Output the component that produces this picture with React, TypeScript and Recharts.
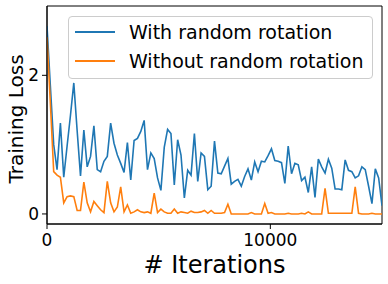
import React from 'react';
import { LineChart, Line, XAxis, YAxis, Legend, ReferenceArea } from 'recharts';

const ITERATIONS = [
  0, 150, 300, 450, 600, 750, 900, 1050, 1200, 1350,
  1500, 1650, 1800, 1950, 2100, 2250, 2400, 2550, 2700, 2850,
  3000, 3150, 3300, 3450, 3600, 3750, 3900, 4050, 4200, 4350,
  4500, 4650, 4800, 4950, 5100, 5250, 5400, 5550, 5700, 5850,
  6000, 6150, 6300, 6450, 6600, 6750, 6900, 7050, 7200, 7350,
  7500, 7650, 7800, 7950, 8100, 8250, 8400, 8550, 8700, 8850,
  9000, 9150, 9300, 9450, 9600, 9750, 9900, 10050, 10200, 10350,
  10500, 10650, 10800, 10950, 11100, 11250, 11400, 11550, 11700, 11850,
  12000, 12150, 12300, 12450, 12600, 12750, 12900, 13050, 13200, 13350,
  13500, 13650, 13800, 13950, 14100, 14250, 14400, 14550, 14700, 14850,
  15000,
];

const WITH_ROTATION = [
  2.71, 1.85, 1.0, 0.64, 1.31, 0.53, 0.98, 1.42, 1.89, 1.2,
  0.55, 1.21, 0.68, 0.83, 1.27, 0.64, 0.61, 0.76, 0.83, 1.31,
  1.02, 0.85, 0.73, 0.6, 1.03, 0.49, 1.06, 1.09, 1.19, 1.35,
  0.64, 0.88, 0.8, 0.52, 0.34, 0.96, 1.22, 1.16, 0.42, 1.07,
  0.85, 0.23, 0.63, 0.56, 1.16, 0.47, 0.88, 0.83, 0.35, 0.4,
  1.05, 0.59, 0.58, 0.69, 0.8, 0.43, 0.47, 0.5, 0.4, 0.54,
  0.65, 0.49, 0.75, 0.61, 0.76, 0.75, 0.84, 0.94, 0.77, 0.76,
  0.74, 0.44, 0.98, 0.58, 0.73, 0.71, 0.48, 0.53, 0.31, 0.68,
  0.24, 0.79, 0.68, 0.59, 0.79, 0.66, 0.36, 0.36, 0.35, 0.78,
  0.63, 0.61, 0.52, 0.55, 0.68, 0.64, 0.4, 0.15, 0.65, 0.52,
  0.12,
];

const WITHOUT_ROTATION = [
  2.55, 1.6, 0.61, 0.56, 0.53, 0.16, 0.25, 0.26, 0.25, 0.05,
  0.05, 0.46, 0.16, 0.03, 0.18, 0.12, 0.06, 0.02, 0.47, 0.16,
  0.03, 0.1, 0.39, 0.03, 0.13, 0.01, 0.03, 0.06, 0.03, 0.02,
  0.03, 0.01, 0.3, 0.02, 0.07, 0.03, 0.01, 0.01, 0.07, 0.01,
  0.03, 0.02, 0.01, 0.04, 0.02, 0.02, 0.03, 0.05, 0.01, 0.05,
  0.01, 0.01, 0.01, 0.02, 0.14, 0.0, 0.0, 0.0, 0.0, 0.0,
  0.0, 0.02, 0.0, 0.0, 0.0, 0.15, 0.01, 0.02, 0.0, 0.0,
  0.0, 0.0, 0.01, 0.0, 0.0, 0.0, 0.01, 0.0, 0.03, 0.0,
  0.0, 0.0, 0.0, 0.37, 0.01, 0.01, 0.01, 0.01, 0.01, 0.01,
  0.01, 0.01, 0.39, 0.01, 0.0, 0.0, 0.0, 0.01, 0.0, 0.0,
  0.0,
];

const SERIES_NAMES = ['With random rotation', 'Without random rotation'];
const SERIES_COLORS = ['#1f77b4', '#ff7f0e'];
const X_TICKS = [0, 10000];
const Y_TICKS = [0, 2];
const X_DOMAIN: [number, number] = [0, 15000];
const Y_DOMAIN: [number, number] = [-0.145, 3.0];
const X_LABEL = '# Iterations';
const Y_LABEL = 'Training Loss';

const data = ITERATIONS.map((it, i) => ({
  it,
  withRot: WITH_ROTATION[i],
  withoutRot: WITHOUT_ROTATION[i],
}));

const FONT = '"DejaVu Sans", sans-serif';

function YLabel(props: any) {
  const vb = props.viewBox || { x: 0, y: 0, width: 0, height: 0 };
  const x = vb.x + 23;
  const y = vb.y + vb.height / 2 + 4;
  return (
    <text
      x={x}
      y={y}
      transform={`rotate(-90, ${x}, ${y})`}
      textAnchor="middle"
      fontSize={20}
      fontFamily={FONT}
      fill="#000"
    >
      {Y_LABEL}
    </text>
  );
}

function LegendBox(props: any) {
  const payload = props.payload || [];
  return (
    <div
      style={{
        boxSizing: 'border-box',
        width: 305,
        height: 63,
        border: '1px solid #cccccc',
        borderRadius: 4,
        background: 'rgba(255,255,255,0.8)',
        padding: '1px 0 0 6px',
        fontFamily: FONT,
        fontSize: 19,
        color: '#000',
      }}
    >
      {payload.map((p: any, i: number) => (
        <div key={i} style={{ display: 'flex', alignItems: 'center', height: 28.4, whiteSpace: 'nowrap' }}>
          <svg width={40} height={4} style={{ marginRight: 14, flex: 'none' }}>
            <line x1={0} y1={2} x2={40} y2={2} stroke={p.color} strokeWidth={2} />
          </svg>
          <span>{p.value}</span>
        </div>
      ))}
    </div>
  );
}

export default function App() {
  return (
    <div style={{ position: 'absolute', left: 0, top: 0 }}>
      <LineChart
        width={388}
        height={284}
        data={data}
        margin={{ top: 6, right: 6, bottom: 0, left: 0 }}
      >
        <XAxis
          dataKey="it"
          type="number"
          domain={X_DOMAIN}
          ticks={X_TICKS}
          allowDataOverflow
          height={60}
          tickSize={5}
          tickMargin={5}
          tick={{ fontSize: 17, fill: '#000', fontFamily: FONT }}
          axisLine={{ stroke: '#000' }}
          tickLine={{ stroke: '#000' }}
          label={{ value: X_LABEL, position: 'insideBottom', offset: 11, fontSize: 24, fill: '#000', fontFamily: FONT }}
        />
        <YAxis
          type="number"
          domain={Y_DOMAIN}
          ticks={Y_TICKS}
          allowDataOverflow
          width={47}
          tickSize={5}
          tickMargin={3}
          tick={{ fontSize: 17, fill: '#000', fontFamily: FONT }}
          axisLine={{ stroke: '#000' }}
          tickLine={{ stroke: '#000' }}
          label={<YLabel />}
        />
        <ReferenceArea
          x1={X_DOMAIN[0]}
          x2={X_DOMAIN[1]}
          y1={Y_DOMAIN[0]}
          y2={Y_DOMAIN[1]}
          fill="none"
          stroke="#000"
          strokeWidth={1}
          fillOpacity={0}
        />
        <Line
          dataKey="withRot"
          name={SERIES_NAMES[0]}
          stroke={SERIES_COLORS[0]}
          strokeWidth={1.6}
          dot={false}
          isAnimationActive={false}
          type="linear"
        />
        <Line
          dataKey="withoutRot"
          name={SERIES_NAMES[1]}
          stroke={SERIES_COLORS[1]}
          strokeWidth={1.6}
          dot={false}
          isAnimationActive={false}
          type="linear"
        />
        <Legend
          layout="vertical"
          align="center"
          verticalAlign="middle"
          width={305}
          wrapperStyle={{ left: 68, top: 16, width: 305 }}
          content={<LegendBox />}
        />
      </LineChart>
    </div>
  );
}
